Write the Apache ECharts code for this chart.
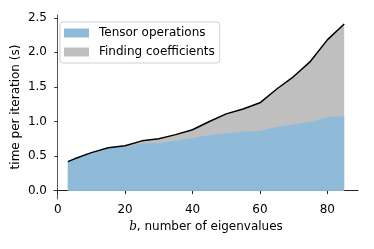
<!DOCTYPE html>
<html>
<head>
<meta charset="utf-8">
<script src="https://cdn.jsdelivr.net/npm/echarts@6/dist/echarts.min.js"></script>
<style>html,body{margin:0;padding:0;background:#fff}#c{width:374px;height:249px}</style>
</head>
<body>
<div id="c"></div>
<script>
var eigenCounts = [3, 5, 10, 15, 20, 25, 30, 35, 40, 45, 50, 55, 60, 65, 70, 75, 80, 85];
var tensorOps =   [0.42, 0.46, 0.55, 0.61, 0.635, 0.68, 0.69, 0.72, 0.76, 0.80, 0.83, 0.85, 0.865, 0.92, 0.955, 0.995, 1.06, 1.08];
var totalTime =   [0.42, 0.46, 0.55, 0.62, 0.65, 0.72, 0.75, 0.81, 0.88, 1.00, 1.11, 1.18, 1.27, 1.47, 1.65, 1.87, 2.18, 2.41];
var xTicks = [0, 20, 40, 60, 80];
var yTicks = [0, 0.5, 1.0, 1.5, 2.0, 2.5];
var seriesNames = ['Tensor operations', 'Finding coefficients'];

function pairs(xs, ys) { return xs.map(function (x, i) { return [x, ys[i]]; }); }

var chart = echarts.init(document.getElementById('c'), null, {renderer: 'canvas'});
var font = 'DejaVu Sans';
var fs = 12;
chart.setOption({
  animation: false,
  backgroundColor: '#fff',
  grid: {left: 54, right: 16, top: 15, bottom: 50, containLabel: false, outerBoundsMode: 'none'},
  legend: {
    data: [seriesNames[0], seriesNames[1]],
    orient: 'vertical', left: 60, top: 22,
    itemWidth: 25, itemHeight: 9, itemGap: 7,
    icon: 'rect',
    padding: [5, 5, 5, 4],
    borderColor: '#d0d0d0', borderWidth: 1, borderRadius: 3,
    backgroundColor: 'rgba(255,255,255,0.8)',
    textStyle: {fontFamily: font, fontSize: fs, color: '#000', padding: [0, 0, 0, 5]}
  },
  xAxis: {
    type: 'value', min: -1.1, max: 89.1,
    splitLine: {show: false},
    axisLine: {lineStyle: {color: '#222', width: 1}},
    axisTick: {show: true, customValues: xTicks, length: 3.5, lineStyle: {color: '#222'}},
    axisLabel: {customValues: xTicks, margin: 5, fontFamily: font, fontSize: fs, color: '#000'},
    name: '{i|b}, number of eigenvalues',
    nameLocation: 'middle', nameGap: 22, nameMoveOverlap: false,
    nameTextStyle: {fontFamily: font, fontSize: fs, color: '#000',
      rich: {i: {fontFamily: 'DejaVu Serif', fontStyle: 'italic', fontSize: fs, color: '#000'}}}
  },
  yAxis: {
    type: 'value', min: -0.121, max: 2.54,
    splitLine: {show: false},
    axisLine: {show: true, lineStyle: {color: '#555', width: 1}},
    axisTick: {show: true, customValues: yTicks, length: 3.5, lineStyle: {color: '#333'}},
    axisLabel: {customValues: yTicks, margin: 7, fontFamily: font, fontSize: fs, color: '#000',
      formatter: function (v) { return v.toFixed(1); }},
    name: 'time per iteration (s)',
    nameLocation: 'middle', nameGap: 32, nameMoveOverlap: false,
    nameTextStyle: {fontFamily: font, fontSize: fs, color: '#000'}
  },
  series: [
    {
      name: seriesNames[1], type: 'line', data: pairs(eigenCounts, totalTime),
      showSymbol: false, symbol: 'none',
      lineStyle: {width: 0, opacity: 0},
      itemStyle: {color: '#bfbfbf'},
      areaStyle: {color: '#bfbfbf', opacity: 1}
    },
    {
      name: seriesNames[0], type: 'line', data: pairs(eigenCounts, tensorOps),
      showSymbol: false, symbol: 'none',
      lineStyle: {width: 0, opacity: 0},
      itemStyle: {color: '#8fbbd9'},
      areaStyle: {color: '#8fbbd9', opacity: 1}
    },
    {
      name: 'total', type: 'line', data: pairs(eigenCounts, totalTime),
      showSymbol: false, symbol: 'none',
      lineStyle: {width: 1.5, color: '#000'},
      itemStyle: {color: '#000'}
    }
  ]
});
</script>
</body>
</html>
